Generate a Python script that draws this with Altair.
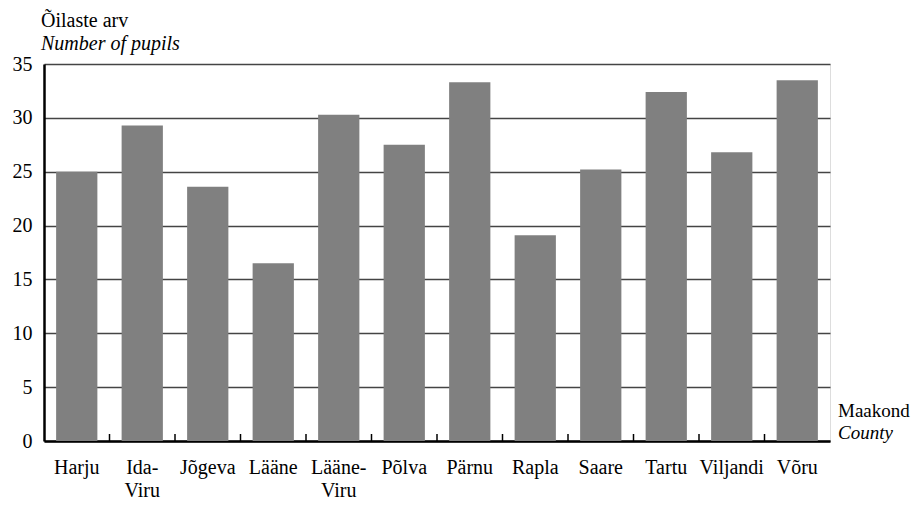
import altair as alt
import pandas as pd

counties = ["Harju", "Ida-Viru", "Jõgeva", "Lääne", "Lääne-Viru", "Põlva",
            "Pärnu", "Rapla", "Saare", "Tartu", "Viljandi", "Võru"]
pupils = [25.0, 29.3, 23.6, 16.5, 30.3, 27.5, 33.3, 19.1, 25.2, 32.4, 26.8, 33.5]
y_ticks = [0, 5, 10, 15, 20, 25, 30, 35]

df = pd.DataFrame({"county": counties, "pupils": pupils})

W, H = 786, 377
FONT = "'Liberation Serif', 'Times New Roman', Times, serif"
FS = 20
P_INNER = 0.37
HALF_GAP = P_INNER * W / len(counties) / 2

xscale = alt.Scale(paddingInner=P_INNER, paddingOuter=P_INNER / 2)

label_expr = "split(replace(datum.value, '-', '-|'), '|')"

bars = alt.Chart(df).mark_bar(color="#808080").encode(
    x=alt.X("county:N", sort=counties, scale=xscale, title=None,
            axis=alt.Axis(labelAngle=0, labelExpr=label_expr, labelFont=FONT,
                          labelFontSize=FS, labelColor="black", labelPadding=16,
                          labelLineHeight=23, labelOverlap=False, labelLimit=200,
                          ticks=False, domainColor="black", domainWidth=2.5,
                          grid=False)),
    y=alt.Y("pupils:Q", scale=alt.Scale(domain=[0, 35], nice=False), title=None,
            axis=alt.Axis(values=y_ticks, labelFont=FONT, labelFontSize=FS,
                          labelColor="black", labelPadding=12, ticks=False,
                          domainColor="black", domainWidth=2.5, grid=True,
                          gridColor="#444444", gridWidth=1.3)),
)

xticks = alt.Chart(df).transform_filter(
    alt.datum.county != counties[-1]
).mark_rule(color="black", strokeWidth=1.5, xOffset=HALF_GAP).encode(
    x=alt.X("county:N", sort=counties, scale=xscale, bandPosition=1),
    y=alt.value(H - 7),
    y2=alt.value(H),
)


def label(text, x, y, italic=False, size=FS):
    return alt.Chart(pd.DataFrame({"t": [text]})).mark_text(
        font=FONT, fontSize=size, fontStyle="italic" if italic else "normal",
        align="left", baseline="alphabetic", color="black"
    ).encode(text="t:N", x=alt.value(x), y=alt.value(y))


annots = [
    label("Õilaste arv", -3, 27 - 64),
    label("Number of pupils", -3, 50 - 64, italic=True),
    label("Maakond", 838 - 44, 417 - 64, size=19),
    label("County", 838 - 44, 439 - 64, italic=True, size=19),
]

chart = alt.layer(bars, xticks, *annots).properties(
    width=W, height=H,
    autosize=alt.AutoSizeParams(type="none"),
    padding={"left": 36, "top": 56, "right": 83, "bottom": 62},
).configure_view(
    stroke="black", strokeWidth=2
).configure(background="white")

chart.save("out.html", embed_options={"renderer": "svg", "actions": False})
